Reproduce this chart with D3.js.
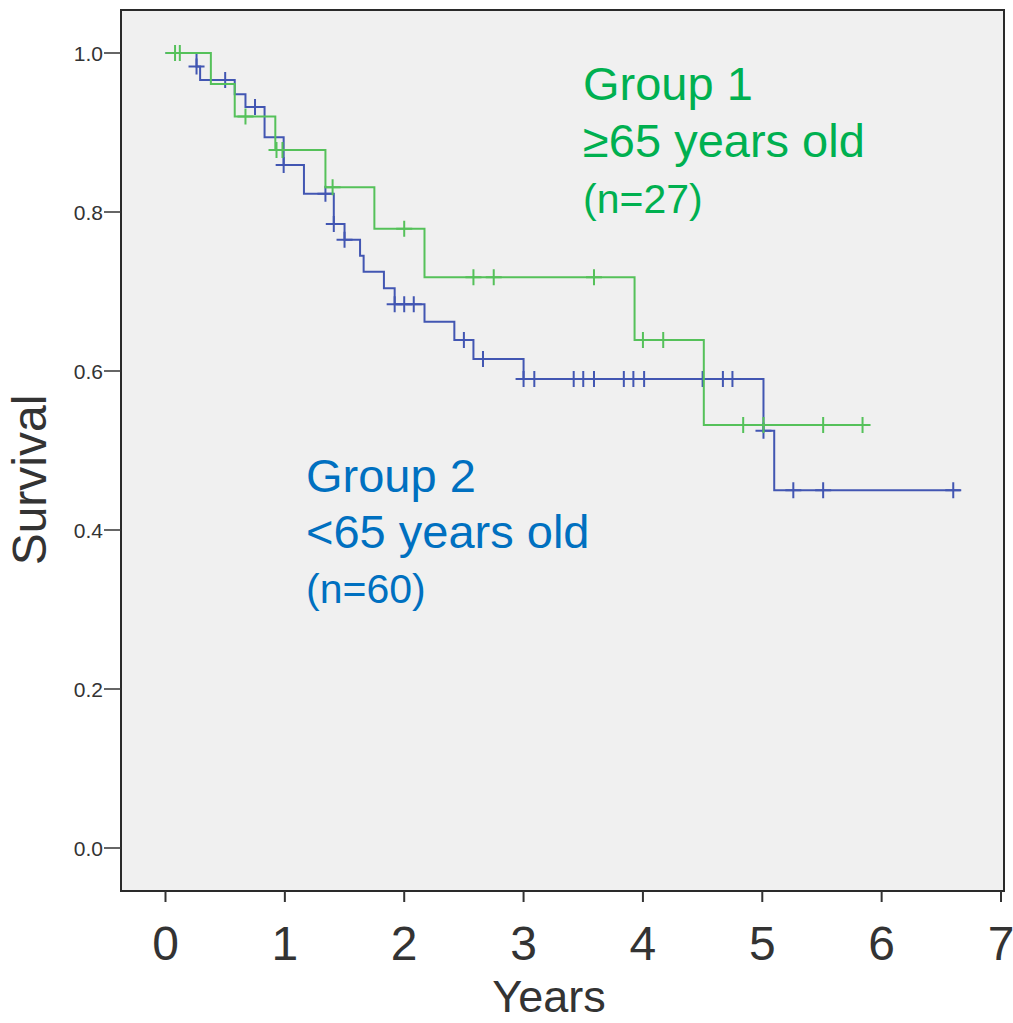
<!DOCTYPE html>
<html>
<head>
<meta charset="utf-8">
<script src="https://cdn.jsdelivr.net/npm/d3@7"></script>
<style>
  body { margin: 0; background: #fff; }
  text { font-family: "Liberation Sans", Arial, sans-serif; }
</style>
</head>
<body>
<div id="chart"></div>
<script>
// Kaplan-Meier curves (years, survival after each drop)
const g1Times = [0, 0.38, 0.58, 0.92, 1.34, 1.75, 2.17, 3.93, 4.51];
const g1Surv = [1.0, 0.961, 0.920, 0.878, 0.831, 0.779, 0.718, 0.639, 0.532];
const g1End = 5.90;
const g1Censor = [0.08, 0.12, 0.67, 0.93, 0.98, 1.40, 2.00, 2.58, 2.75, 3.59, 4.00, 4.17, 4.84, 5.01, 5.51, 5.84];

const g2Times = [0, 0.26, 0.29, 0.58, 0.67, 0.83, 0.99, 1.16, 1.41, 1.50, 1.63, 1.66, 1.83, 1.92, 2.17, 2.42, 2.58, 3.00, 5.01, 5.10];
const g2Surv = [1.0, 0.983, 0.966, 0.948, 0.932, 0.894, 0.859, 0.823, 0.785, 0.765, 0.745, 0.725, 0.704, 0.684, 0.662, 0.639, 0.615, 0.590, 0.525, 0.450];
const g2End = 6.66;
const g2Censor = [0.26, 0.50, 0.75, 0.99, 1.34, 1.41, 1.50, 1.92, 2.00, 2.08, 2.50, 2.66, 3.00, 3.09, 3.42, 3.50, 3.59, 3.84, 3.92, 4.01, 4.50, 4.67, 4.75, 5.01, 5.26, 5.51, 6.60];

const xTicks = [0, 1, 2, 3, 4, 5, 6, 7];
const yTicks = [0, 0.2, 0.4, 0.6, 0.8, 1.0];

const W = 1013, H = 1023;
const frame = {left: 121, right: 1004, top: 10, bottom: 891};

let x = d3.scaleLinear().domain([0, 7]).range([165.5, 1001]);
let y = d3.scaleLinear().domain([0, 1]).range([848, 53]);

let svg = d3.select('#chart').append('svg')
    .attr('width', W)
    .attr('height', H);

// plot background + frame
svg.append('rect')
    .attr('x', frame.left)
    .attr('y', frame.top)
    .attr('width', frame.right - frame.left)
    .attr('height', frame.bottom - frame.top)
    .attr('fill', '#f0f0f0')
    .attr('stroke', '#2a2a2a')
    .attr('stroke-width', 2);

// Y axis ticks
let yg = svg.append('g');
yg.selectAll('line').data(yTicks).enter().append('line')
    .attr('x1', 104).attr('x2', frame.left)
    .attr('y1', d => y(d)).attr('y2', d => y(d))
    .attr('stroke', '#333').attr('stroke-width', 1.5);
yg.selectAll('text').data(yTicks).enter().append('text')
    .attr('x', 103)
    .attr('y', d => y(d))
    .attr('dy', '0.36em')
    .attr('text-anchor', 'end')
    .attr('font-size', 21)
    .attr('fill', '#333')
    .text(d => d.toFixed(1));

// X axis ticks
let xg = svg.append('g');
xg.selectAll('line').data(xTicks).enter().append('line')
    .attr('x1', d => x(d)).attr('x2', d => x(d))
    .attr('y1', frame.bottom).attr('y2', 902)
    .attr('stroke', '#333').attr('stroke-width', 2);
xg.selectAll('text').data(xTicks).enter().append('text')
    .attr('x', d => x(d))
    .attr('y', 960)
    .attr('text-anchor', 'middle')
    .attr('font-size', 48)
    .attr('fill', '#333')
    .text(d => d);

// axis titles
svg.append('text')
    .attr('x', 549).attr('y', 1012)
    .attr('text-anchor', 'middle')
    .attr('font-size', 45)
    .attr('fill', '#333')
    .text('Years');
svg.append('text')
    .attr('transform', 'translate(46,480) rotate(-90)')
    .attr('text-anchor', 'middle')
    .attr('font-size', 48)
    .attr('fill', '#333')
    .text('Survival');

// step lookup for censor marks
function survAt(times, surv, t) {
  let s = surv[0];
  for (let i = 0; i < times.length; i++) {
    if (times[i] <= t) s = surv[i];
  }
  return s;
}

let line = d3.line()
    .x(d => x(d[0]))
    .y(d => y(d[1]))
    .curve(d3.curveStepAfter);

function drawCurve(times, surv, end, censor, color) {
  let pts = times.map((t, i) => [t, surv[i]]);
  pts.push([end, surv[surv.length - 1]]);
  let g = svg.append('g');
  g.append('path')
      .datum(pts)
      .attr('fill', 'none')
      .attr('stroke', color)
      .attr('stroke-width', 2)
      .attr('d', line);
  g.selectAll('path.cens').data(censor).enter().append('path')
      .attr('class', 'cens')
      .attr('fill', 'none')
      .attr('stroke', color)
      .attr('stroke-width', 2)
      .attr('d', t => {
        let cx = x(t), cy = y(survAt(times, surv, t));
        return 'M' + (cx - 8) + ',' + cy + 'H' + (cx + 8) + 'M' + cx + ',' + (cy - 8) + 'V' + (cy + 8);
      });
}

drawCurve(g2Times, g2Surv, g2End, g2Censor, '#4256b2');
drawCurve(g1Times, g1Surv, g1End, g1Censor, '#55c15a');

// group labels
const g1Label = ['Group 1', '\u226565 years old', '(n=27)'];
const g2Label = ['Group 2', '<65 years old', '(n=60)'];
const labelSizes = [47, 47, 41];

function drawLabel(lines, lx, baselines, color) {
  svg.append('g').selectAll('text').data(lines).enter().append('text')
      .attr('x', lx)
      .attr('y', (d, i) => baselines[i])
      .attr('font-size', (d, i) => labelSizes[i])
      .attr('fill', color)
      .text(d => d);
}
drawLabel(g1Label, 583, [100, 157, 213], '#00b050');
drawLabel(g2Label, 306, [492, 548, 603], '#0070c0');
</script>
</body>
</html>
